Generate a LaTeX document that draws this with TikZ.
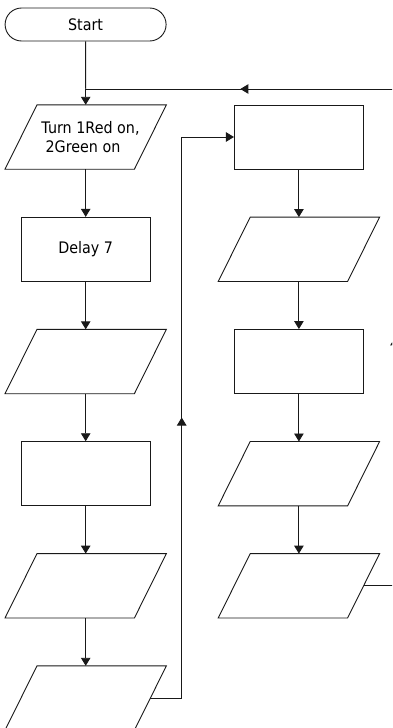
\documentclass[tikz,border=0pt]{standalone}
\usepackage{graphicx}
\usepackage{fontspec}
\setmainfont{DejaVu Sans}
\usetikzlibrary{arrows.meta,decorations.markings}
\newcommand{\sqz}[1]{\scalebox{0.9}[1]{#1}}
\begin{document}
\begin{tikzpicture}[x=1pt,y=-1pt,
  line/.style={draw=black!90, line width=0.9pt},
  arr/.style={line, -{Triangle[length=8pt,width=9.5pt]}},
  midarr/.style={line, postaction={decorate}, decoration={markings, mark=at position 0.5 with {\arrow{Triangle[length=8pt,width=9.5pt]}}}},
  txt/.style={font=\fontsize{15.9}{19.4}\selectfont, text=black, align=center},
  term/.style={txt, line, rounded corners=16.5pt, minimum width=161pt, minimum height=33pt, inner sep=0pt},
  procbox/.style={txt, line, rectangle, minimum width=129pt, minimum height=64pt, inner sep=0pt},
  iobox/.style={txt, rectangle, minimum width=129pt, minimum height=64pt, inner sep=0pt,
    append after command={\pgfextra{\draw[line]
      ([xshift=16pt]\tikzlastnode.north west) -- ([xshift=16pt]\tikzlastnode.north east) --
      ([xshift=-16pt]\tikzlastnode.south east) -- ([xshift=-16pt]\tikzlastnode.south west) -- cycle;}}}
]
\useasboundingbox (0,0) rectangle (392,728);
\clip (0,0) rectangle (392,728);

% left column
\node[term] (start) at (85.6,24.5) {\sqz{Start}};
\node[iobox] (L1) at (85.7,137) {\hspace*{9.6pt}\sqz{Turn 1Red on,}\\\sqz{2Green on}\hspace*{5.4pt}};
\node[procbox] (L2) at (85.7,249.3) {\sqz{Delay 7}};
\node[iobox] (L3) at (85.7,361.5) {};
\node[procbox] (L4) at (85.7,473.7) {};
\node[iobox] (L5) at (85.7,585.8) {};
\node[iobox] (L6) at (85.7,698) {};

% right column
\node[procbox] (R1) at (298.9,137) {};
\node[iobox] (R2) at (298.9,249.3) {};
\node[procbox] (R3) at (298.9,361.5) {};
\node[iobox] (R4) at (298.9,473.7) {};
\node[iobox] (R5) at (298.9,585.8) {};

% junction and loop corners
\coordinate (jn) at (85.7,89);
\coordinate (rr1) at (395,585.8);
\coordinate (rr2) at (395,89);
\coordinate (lb1) at (181.7,698);
\coordinate (lb2) at (181.7,137);

% connectors
\draw[line] (start.south) -- (jn);
\draw[arr] (jn) -- (L1.north);
\draw[arr] (L1) -- (L2);
\draw[arr] (L2) -- (L3);
\draw[arr] (L3) -- (L4);
\draw[arr] (L4) -- (L5);
\draw[arr] (L5) -- (L6);

\draw[arr] (R1) -- (R2);
\draw[arr] (R2) -- (R3);
\draw[arr] (R3) -- (R4);
\draw[arr] (R4) -- (R5);

\draw[line] (R5.east) -- (rr1);
\draw[midarr] (rr1) -- (rr2);
\draw[midarr] (rr2) -- (jn);

\draw[line] (L6.east) -- (lb1);
\draw[midarr] (lb1) -- (lb2);
\draw[arr] (lb2) -- (R1.west);
\end{tikzpicture}
\end{document}
